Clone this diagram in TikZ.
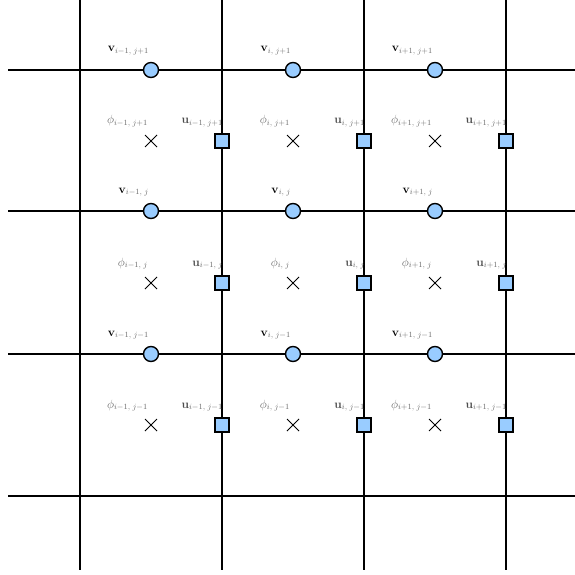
\documentclass[tikz,border=0pt]{standalone}
\usetikzlibrary{shapes.misc}
\definecolor{nodeblue}{HTML}{99CCFF}
\definecolor{lblgray}{HTML}{6A6A6A}
\begin{document}
\begin{tikzpicture}[x=1pt,y=-1pt,
  gridline/.style={line width=1.4pt,black},
  vnode/.style={circle,draw=black,line width=1.4pt,fill=nodeblue,minimum size=15pt,inner sep=0pt},
  unode/.style={rectangle,draw=black,line width=1.4pt,fill=nodeblue,minimum size=14pt,inner sep=0pt},
  pnode/.style={cross out,draw=black,line width=1pt,minimum size=11pt,inner sep=0pt},
  vlbl/.style={anchor=base east,inner sep=0pt,font=\large,text=lblgray},
  plbl/.style={anchor=base east,inner sep=0pt,font=\large,text=lblgray},
]
\useasboundingbox (0,0) rectangle (575,575);
% grid
\foreach \x in {80,222,364,506} \draw[gridline] (\x,0) -- (\x,570);
\foreach \y in {70,211,354,496} \draw[gridline] (8,\y) -- (575,\y);
% nodes
\foreach \cx/\gx/\il in {151/222/{i-1}, 293/364/{i}, 435/506/{i+1}}{
  \foreach \gy/\my/\jl in {70/141/{j+1}, 211/283/{j}, 354/425/{j-1}}{
    \node[vnode] (v\il\jl) at (\cx,\gy) {};
    \node[unode] (u\il\jl) at (\gx,\my) {};
    \node[pnode] (p\il\jl) at (\cx,\my) {};
    \node[vlbl] (lv\il\jl) at (\cx-2,\gy-18) {$\mathbf{\color{black}v}_{\il,\;\jl}$};
    \node[plbl] (lp\il\jl) at (\cx-3,\my-17) {$\phi_{\il,\;\jl}$};
    \node[plbl] (lu\il\jl) at (\gx+1,\my-17) {$\mathbf{\color{black!70}u}_{\il,\;\jl}$};
  }
}
\end{tikzpicture}
\end{document}
